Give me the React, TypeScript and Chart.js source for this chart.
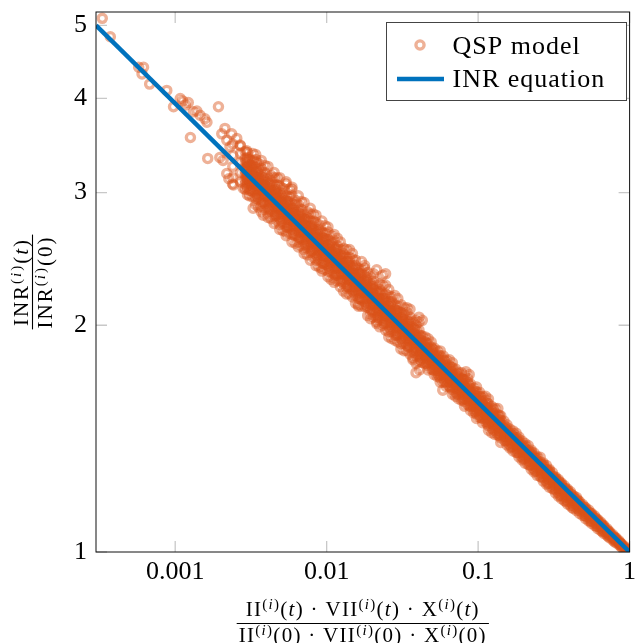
import React, { useEffect, useRef } from "react";
import { Chart, registerables } from "chart.js";

Chart.register(...registerables);

// ---------- axis ticks ----------
const xTickValues = [0.001, 0.01, 0.1, 1];
const xTickLabels = ["0.001", "0.01", "0.1", "1"];
const yTickValues = [1, 2, 3, 4, 5];
const yTickLabels = ["1", "2", "3", "4", "5"];
const xMin = 0.0003;
const xMax = 1;
const yMin = 1;
const yMax = 5.21;

// ---------- INR equation (straight line in log-log) ----------
const inrLineX = [0.0003, 1];
const inrLineY = [5.0, 1.0];

// ---------- QSP model: scattered points ----------
const qspSparseX = [0.00033, 0.000373, 0.000574, 0.000618, 0.000604, 0.000678, 0.00088, 0.000975, 0.00108, 0.00112,
  0.00117, 0.00122, 0.00126, 0.00132, 0.00139, 0.00146, 0.00157, 0.00162, 0.00164, 0.00193,
  0.00197, 0.00203, 0.00207, 0.00213, 0.00219, 0.00219, 0.00226, 0.0023, 0.00236, 0.00239,
  0.00242, 0.00255, 0.00268, 0.00281, 0.00296, 0.00327, 0.00345, 0.00381, 0.0245, 0.0428,
  0.0873, 0.0389, 0.041, 0.0584, 0.0831];
const qspSparseY = [5.11, 4.83, 4.40, 4.40, 4.31, 4.18, 4.10, 3.90, 4.00, 3.97,
  3.92, 3.95, 3.55, 3.84, 3.85, 3.80, 3.76, 3.72, 3.33, 3.90,
  3.34, 3.59, 3.31, 3.65, 3.52, 3.18, 3.13, 3.45, 3.59, 3.08,
  3.07, 3.54, 3.47, 3.04, 3.41, 2.86, 3.29, 2.80, 2.34, 2.03,
  1.72, 1.73, 1.745, 1.64, 1.735];

// ---------- QSP model: dense band, grouped by x (first pass) ----------
const qspColumnX = [0.0024, 0.0027, 0.0029, 0.0031, 0.0034, 0.0037, 0.0041, 0.0045, 0.0049, 0.0054,
  0.0059, 0.0065, 0.0071, 0.0078, 0.0085, 0.0093, 0.0102, 0.0112, 0.0123, 0.0135,
  0.0148, 0.0162, 0.0178, 0.0195, 0.0214, 0.0234, 0.0257, 0.0282, 0.0309, 0.0339,
  0.0371, 0.0407, 0.0447, 0.049, 0.0537, 0.0589, 0.0646, 0.0708, 0.0776, 0.0851,
  0.0933, 0.102, 0.112, 0.123, 0.135, 0.148, 0.162, 0.178, 0.195, 0.214,
  0.234, 0.257, 0.282, 0.309, 0.339, 0.371, 0.407, 0.447, 0.49, 0.537,
  0.589, 0.646, 0.708, 0.776, 0.851, 0.933, 1.0];
const qspColumnY = [
  [3.14, 3.25, 3.36, 3.48],
  [3.10, 3.19, 3.29, 3.38, 3.46],
  [3.03, 3.08, 3.12, 3.17, 3.20, 3.24, 3.29, 3.33, 3.40],
  [2.97, 3.02, 3.07, 3.11, 3.15, 3.18, 3.22, 3.27, 3.32],
  [2.89, 2.95, 2.99, 3.04, 3.09, 3.12, 3.15, 3.20, 3.24, 3.32, 3.37],
  [2.83, 2.88, 2.92, 2.97, 3.02, 3.05, 3.08, 3.12, 3.17, 3.23, 3.31],
  [2.78, 2.81, 2.86, 2.90, 2.95, 2.98, 3.01, 3.05, 3.10, 3.14, 3.25],
  [2.73, 2.79, 2.83, 2.88, 2.92, 2.95, 2.98, 3.02, 3.07, 3.14, 3.19],
  [2.68, 2.72, 2.77, 2.81, 2.85, 2.88, 2.91, 2.95, 3.00, 3.06, 3.14],
  [2.63, 2.66, 2.70, 2.74, 2.79, 2.82, 2.84, 2.89, 2.93, 2.97, 3.08, 3.10],
  [2.58, 2.64, 2.68, 2.72, 2.77, 2.79, 2.82, 2.86, 2.90, 2.97, 3.03, 3.05],
  [2.54, 2.58, 2.62, 2.66, 2.70, 2.73, 2.76, 2.80, 2.84, 2.89, 2.97],
  [2.49, 2.52, 2.56, 2.60, 2.64, 2.67, 2.69, 2.73, 2.77, 2.81, 2.91],
  [2.44, 2.50, 2.54, 2.58, 2.62, 2.64, 2.67, 2.71, 2.75, 2.81, 2.86],
  [2.40, 2.44, 2.48, 2.52, 2.56, 2.58, 2.61, 2.65, 2.68, 2.74, 2.80],
  [2.36, 2.38, 2.42, 2.46, 2.50, 2.52, 2.55, 2.59, 2.62, 2.66, 2.75],
  [2.32, 2.36, 2.40, 2.44, 2.48, 2.50, 2.53, 2.56, 2.60, 2.66, 2.70],
  [2.28, 2.31, 2.34, 2.38, 2.42, 2.44, 2.47, 2.50, 2.54, 2.59, 2.64],
  [2.25, 2.29, 2.33, 2.36, 2.39, 2.41, 2.45, 2.48, 2.52, 2.58],
  [2.20, 2.24, 2.27, 2.31, 2.34, 2.37, 2.39, 2.43, 2.46, 2.52],
  [2.18, 2.22, 2.25, 2.29, 2.31, 2.33, 2.37, 2.40, 2.45, 2.49],
  [2.12, 2.13, 2.17, 2.20, 2.23, 2.26, 2.28, 2.31, 2.35, 2.38],
  [2.12, 2.15, 2.18, 2.22, 2.24, 2.26, 2.29, 2.33, 2.38, 2.40],
  [2.04, 2.07, 2.10, 2.13, 2.17, 2.19, 2.21, 2.24, 2.27, 2.32],
  [2.01, 2.02, 2.05, 2.08, 2.11, 2.14, 2.16, 2.19, 2.22, 2.26, 2.37],
  [2.00, 2.03, 2.07, 2.10, 2.12, 2.14, 2.17, 2.20, 2.26, 2.33],
  [1.93, 1.96, 1.99, 2.02, 2.05, 2.07, 2.09, 2.12, 2.15, 2.19, 2.23],
  [1.91, 1.94, 1.97, 2.00, 2.02, 2.04, 2.07, 2.10, 2.13, 2.19],
  [1.86, 1.89, 1.92, 1.95, 1.98, 2.00, 2.02, 2.05, 2.08, 2.13],
  [1.85, 1.88, 1.91, 1.94, 1.96, 1.98, 2.01, 2.04, 2.08, 2.11],
  [1.80, 1.81, 1.84, 1.86, 1.89, 1.91, 1.93, 1.96, 1.99, 2.02],
  [1.79, 1.82, 1.85, 1.88, 1.90, 1.92, 1.94, 1.97, 2.02, 2.05],
  [1.78, 1.80, 1.82, 1.83, 1.85, 1.87, 1.90, 1.93],
  [1.75, 1.77, 1.79, 1.81, 1.83, 1.85, 1.87, 1.90],
  [1.71, 1.73, 1.74, 1.76, 1.78, 1.80, 1.82, 1.85],
  [1.68, 1.70, 1.72, 1.74, 1.75, 1.77, 1.80, 1.82],
  [1.66, 1.68, 1.70, 1.71, 1.73, 1.75, 1.77, 1.80],
  [1.61, 1.63, 1.65, 1.67, 1.68, 1.70, 1.72, 1.75],
  [1.59, 1.61, 1.63, 1.64, 1.66, 1.68, 1.70, 1.73],
  [1.57, 1.59, 1.60, 1.62, 1.64, 1.65, 1.68, 1.70],
  [1.53, 1.55, 1.56, 1.58, 1.59, 1.61, 1.63, 1.65],
  [1.51, 1.52, 1.54, 1.55, 1.57, 1.59, 1.61, 1.63],
  [1.49, 1.50, 1.52, 1.53, 1.55, 1.56, 1.59, 1.61],
  [1.44, 1.46, 1.48, 1.49, 1.51, 1.52, 1.54, 1.56],
  [1.43, 1.44, 1.46, 1.47, 1.49, 1.50, 1.52, 1.55],
  [1.407, 1.422, 1.437, 1.448, 1.460, 1.472, 1.492],
  [1.374, 1.389, 1.403, 1.417, 1.429, 1.439, 1.456],
  [1.356, 1.371, 1.385, 1.396, 1.407, 1.419, 1.438],
  [1.325, 1.338, 1.352, 1.366, 1.377, 1.387, 1.404],
  [1.307, 1.320, 1.334, 1.345, 1.356, 1.366, 1.385],
  [1.277, 1.290, 1.304, 1.317, 1.328, 1.337, 1.353],
  [1.260, 1.273, 1.286, 1.296, 1.307, 1.317, 1.336],
  [1.230, 1.243, 1.256, 1.269, 1.279, 1.288, 1.303],
  [1.214, 1.227, 1.240, 1.250, 1.260, 1.275],
  [1.186, 1.199, 1.211, 1.223, 1.233, 1.242, 1.248],
  [1.170, 1.182, 1.195, 1.204, 1.214, 1.224],
  [1.153, 1.165, 1.177, 1.186, 1.195, 1.202],
  [1.135, 1.147, 1.157, 1.167, 1.175, 1.181],
  [1.118, 1.130, 1.139, 1.147, 1.156],
  [1.100, 1.112, 1.121, 1.129, 1.137],
  [1.084, 1.094, 1.103, 1.110, 1.116],
  [1.068, 1.077, 1.084, 1.091, 1.095],
  [1.053, 1.061, 1.068, 1.074],
  [1.037, 1.044, 1.049, 1.054],
  [1.023, 1.028, 1.032, 1.035],
  [1.009, 1.013, 1.016],
  [1.0],
];

// ---------- QSP model: dense band, grouped by x (in-between columns) ----------
const qspColumnX2 = [0.0030, 0.00325, 0.00355, 0.0039, 0.0043, 0.0047, 0.00515, 0.00565, 0.0062, 0.0068,
  0.00745, 0.00815, 0.0089, 0.00975, 0.0107, 0.01175, 0.0129, 0.01415, 0.0155, 0.0170,
  0.01865, 0.0204, 0.0224, 0.0245, 0.0269, 0.0295, 0.0324, 0.0355, 0.0389, 0.0427,
  0.0468, 0.0513, 0.0562, 0.0617, 0.0676, 0.0741, 0.0813, 0.0891, 0.0976, 0.107,
  0.117, 0.129, 0.141, 0.155, 0.170, 0.186, 0.204, 0.224, 0.245, 0.269,
  0.295, 0.324, 0.355, 0.389, 0.427, 0.468, 0.513, 0.562, 0.617, 0.676,
  0.741, 0.813, 0.891, 0.966];
const qspColumnY2 = [
  [2.98, 3.04, 3.09, 3.13, 3.16, 3.19, 3.22, 3.25, 3.29, 3.34, 3.39],
  [2.96, 3.01, 3.06, 3.09, 3.13, 3.15, 3.18, 3.22, 3.26, 3.31, 3.38],
  [2.87, 2.94, 2.98, 3.02, 3.05, 3.08, 3.11, 3.14, 3.18, 3.22, 3.28],
  [2.85, 2.90, 2.95, 2.98, 3.01, 3.04, 3.07, 3.10, 3.14, 3.19, 3.26],
  [2.77, 2.83, 2.87, 2.91, 2.94, 2.97, 3.00, 3.02, 3.06, 3.11, 3.16],
  [2.75, 2.80, 2.84, 2.87, 2.90, 2.93, 2.96, 2.99, 3.03, 3.07, 3.14],
  [2.67, 2.73, 2.77, 2.81, 2.84, 2.86, 2.89, 2.91, 2.95, 2.99, 3.04],
  [2.65, 2.70, 2.74, 2.77, 2.80, 2.82, 2.85, 2.88, 2.92, 2.96, 3.03],
  [2.57, 2.63, 2.67, 2.71, 2.73, 2.76, 2.78, 2.81, 2.84, 2.89, 2.93],
  [2.55, 2.60, 2.64, 2.67, 2.70, 2.72, 2.75, 2.78, 2.81, 2.85, 2.92],
  [2.48, 2.53, 2.57, 2.61, 2.64, 2.66, 2.68, 2.71, 2.74, 2.78, 2.83],
  [2.46, 2.51, 2.54, 2.57, 2.60, 2.62, 2.65, 2.68, 2.71, 2.75, 2.81],
  [2.39, 2.44, 2.48, 2.51, 2.54, 2.56, 2.59, 2.61, 2.64, 2.68, 2.72],
  [2.37, 2.41, 2.45, 2.48, 2.51, 2.53, 2.55, 2.58, 2.61, 2.65, 2.71],
  [2.30, 2.35, 2.39, 2.42, 2.45, 2.47, 2.49, 2.51, 2.55, 2.58, 2.63],
  [2.29, 2.33, 2.36, 2.39, 2.42, 2.44, 2.46, 2.49, 2.52, 2.55, 2.61],
  [2.22, 2.27, 2.30, 2.34, 2.36, 2.38, 2.40, 2.42, 2.45, 2.49, 2.53],
  [2.20, 2.24, 2.28, 2.30, 2.33, 2.35, 2.37, 2.40, 2.43, 2.46, 2.52],
  [2.14, 2.19, 2.22, 2.25, 2.27, 2.29, 2.31, 2.34, 2.37, 2.40, 2.44],
  [2.12, 2.16, 2.20, 2.22, 2.24, 2.26, 2.28, 2.31, 2.34, 2.37, 2.43],
  [2.06, 2.11, 2.14, 2.17, 2.19, 2.21, 2.23, 2.25, 2.28, 2.31, 2.35],
  [2.05, 2.08, 2.12, 2.14, 2.16, 2.18, 2.20, 2.23, 2.25, 2.29, 2.34],
  [1.99, 2.03, 2.06, 2.09, 2.11, 2.13, 2.15, 2.17, 2.20, 2.23, 2.27],
  [1.97, 2.01, 2.04, 2.06, 2.08, 2.10, 2.12, 2.15, 2.17, 2.20, 2.26],
  [1.92, 1.96, 1.99, 2.02, 2.04, 2.05, 2.07, 2.09, 2.12, 2.15, 2.18],
  [1.90, 1.94, 1.97, 1.99, 2.01, 2.03, 2.05, 2.07, 2.09, 2.12, 2.17],
  [1.85, 1.89, 1.92, 1.94, 1.96, 1.98, 2.00, 2.02, 2.04, 2.07, 2.11],
  [1.83, 1.87, 1.90, 1.92, 1.94, 1.95, 1.97, 1.99, 2.02, 2.05, 2.10],
  [1.78, 1.82, 1.85, 1.87, 1.89, 1.91, 1.93, 1.94, 1.97, 2.00, 2.03],
  [1.785, 1.808, 1.828, 1.847, 1.862, 1.875, 1.890, 1.909, 1.935],
  [1.744, 1.767, 1.786, 1.804, 1.821, 1.836, 1.851, 1.867, 1.891, 1.919],
  [1.720, 1.742, 1.762, 1.780, 1.795, 1.807, 1.822, 1.840, 1.865],
  [1.680, 1.703, 1.721, 1.739, 1.755, 1.769, 1.783, 1.799, 1.822, 1.849],
  [1.659, 1.680, 1.699, 1.716, 1.730, 1.743, 1.756, 1.774, 1.798],
  [1.620, 1.642, 1.659, 1.676, 1.692, 1.705, 1.719, 1.735, 1.757, 1.783],
  [1.598, 1.618, 1.637, 1.653, 1.667, 1.679, 1.692, 1.709, 1.732],
  [1.561, 1.583, 1.599, 1.616, 1.631, 1.644, 1.657, 1.672, 1.693, 1.718],
  [1.541, 1.560, 1.578, 1.594, 1.607, 1.619, 1.632, 1.648, 1.671],
  [1.504, 1.525, 1.541, 1.557, 1.571, 1.584, 1.597, 1.611, 1.632, 1.656],
  [1.485, 1.504, 1.521, 1.536, 1.549, 1.560, 1.572, 1.588, 1.610],
  [1.451, 1.471, 1.486, 1.501, 1.515, 1.527, 1.540, 1.553, 1.573, 1.596],
  [1.432, 1.450, 1.466, 1.481, 1.493, 1.504, 1.516, 1.531, 1.552],
  [1.398, 1.417, 1.432, 1.446, 1.460, 1.472, 1.483, 1.497, 1.516],
  [1.387, 1.404, 1.419, 1.432, 1.442, 1.451, 1.462, 1.475],
  [1.362, 1.379, 1.393, 1.406, 1.416, 1.425, 1.436, 1.448],
  [1.337, 1.354, 1.368, 1.380, 1.390, 1.399, 1.410, 1.421],
  [1.312, 1.329, 1.342, 1.355, 1.364, 1.373, 1.383, 1.393],
  [1.288, 1.304, 1.318, 1.330, 1.340, 1.348, 1.358, 1.366],
  [1.264, 1.280, 1.294, 1.305, 1.315, 1.323, 1.332, 1.339],
  [1.242, 1.257, 1.270, 1.282, 1.291, 1.299, 1.307, 1.313],
  [1.219, 1.234, 1.247, 1.258, 1.267, 1.275, 1.283, 1.288],
  [1.198, 1.212, 1.224, 1.235, 1.244, 1.252, 1.258],
  [1.177, 1.190, 1.202, 1.213, 1.221, 1.229, 1.235],
  [1.158, 1.170, 1.181, 1.191, 1.200, 1.207, 1.212],
  [1.142, 1.153, 1.163, 1.172, 1.180, 1.187],
  [1.125, 1.135, 1.144, 1.152, 1.159, 1.166],
  [1.107, 1.116, 1.125, 1.132, 1.139, 1.145],
  [1.091, 1.100, 1.108, 1.114, 1.120, 1.125],
  [1.074, 1.082, 1.089, 1.095, 1.100, 1.104],
  [1.058, 1.065, 1.071, 1.076, 1.081, 1.084],
  [1.044, 1.050, 1.055, 1.059, 1.063],
  [1.029, 1.034, 1.038, 1.041, 1.044],
  [1.014, 1.018, 1.021, 1.024],
  [1.003, 1.006, 1.008],
];

// ---------- QSP model: band core, grouped by x ----------
const qspCoreX = [0.00297, 0.00317, 0.00348, 0.00379, 0.00419, 0.0046, 0.00501, 0.00552, 0.00604, 0.00665,
  0.00726, 0.00798, 0.0087, 0.00951, 0.01043, 0.01146, 0.01258, 0.01381, 0.01514, 0.01657,
  0.01821, 0.01995, 0.02189, 0.02394, 0.02629, 0.02885, 0.03161, 0.03468, 0.03795, 0.04164,
  0.04573, 0.05013, 0.05494, 0.06025, 0.06609, 0.07243, 0.07938, 0.08706, 0.09545, 0.1043,
  0.1146, 0.1258, 0.1381, 0.1514, 0.1657, 0.1821, 0.1995, 0.2189, 0.2394, 0.2629,
  0.2885, 0.3161, 0.3468, 0.3795, 0.4164, 0.4573, 0.5013, 0.5494, 0.6025, 0.6609,
  0.7243, 0.7938, 0.8706, 0.9545];
const qspCoreY = [
  [3.06, 3.13, 3.17, 3.21, 3.24, 3.30],
  [3.02, 3.08, 3.13, 3.16, 3.20, 3.26],
  [2.97, 3.03, 3.07, 3.11, 3.14, 3.20],
  [2.91, 2.97, 3.02, 3.05, 3.08, 3.14],
  [2.86, 2.92, 2.96, 2.99, 3.03, 3.08],
  [2.80, 2.86, 2.91, 2.94, 2.97, 3.03],
  [2.75, 2.81, 2.86, 2.88, 2.92, 2.97],
  [2.70, 2.76, 2.80, 2.83, 2.86, 2.92],
  [2.65, 2.71, 2.75, 2.78, 2.81, 2.86],
  [2.61, 2.66, 2.70, 2.73, 2.76, 2.81],
  [2.56, 2.61, 2.65, 2.68, 2.71, 2.76],
  [2.51, 2.56, 2.60, 2.63, 2.66, 2.71],
  [2.47, 2.52, 2.56, 2.58, 2.61, 2.66],
  [2.42, 2.47, 2.51, 2.54, 2.57, 2.61],
  [2.38, 2.43, 2.46, 2.49, 2.52, 2.56],
  [2.33, 2.38, 2.42, 2.44, 2.47, 2.52],
  [2.29, 2.34, 2.38, 2.40, 2.43, 2.47],
  [2.25, 2.30, 2.33, 2.36, 2.38, 2.43],
  [2.21, 2.25, 2.29, 2.31, 2.34, 2.38],
  [2.17, 2.21, 2.25, 2.27, 2.30, 2.34],
  [2.13, 2.17, 2.21, 2.23, 2.26, 2.30],
  [2.09, 2.13, 2.17, 2.19, 2.21, 2.25],
  [2.05, 2.09, 2.13, 2.15, 2.17, 2.21],
  [2.01, 2.06, 2.09, 2.11, 2.13, 2.17],
  [1.98, 2.02, 2.05, 2.07, 2.09, 2.13],
  [1.94, 1.98, 2.01, 2.03, 2.06, 2.09],
  [1.91, 1.95, 1.98, 2.00, 2.02, 2.05],
  [1.87, 1.91, 1.94, 1.96, 1.98, 2.02],
  [1.84, 1.87, 1.90, 1.92, 1.95, 1.98],
  [1.80, 1.84, 1.87, 1.89, 1.91, 1.94],
  [1.779, 1.807, 1.831, 1.849, 1.868, 1.894],
  [1.747, 1.775, 1.798, 1.816, 1.835, 1.860],
  [1.716, 1.742, 1.766, 1.783, 1.801, 1.826],
  [1.684, 1.710, 1.733, 1.751, 1.768, 1.793],
  [1.653, 1.679, 1.701, 1.719, 1.736, 1.760],
  [1.622, 1.648, 1.670, 1.687, 1.704, 1.727],
  [1.593, 1.618, 1.639, 1.656, 1.672, 1.695],
  [1.564, 1.588, 1.610, 1.626, 1.642, 1.665],
  [1.536, 1.560, 1.581, 1.597, 1.613, 1.635],
  [1.508, 1.532, 1.552, 1.568, 1.584, 1.606],
  [1.480, 1.503, 1.523, 1.539, 1.554, 1.576],
  [1.453, 1.476, 1.496, 1.511, 1.526, 1.547],
  [1.427, 1.449, 1.468, 1.483, 1.498, 1.519],
  [1.404, 1.423, 1.437, 1.449, 1.459],
  [1.378, 1.396, 1.411, 1.422, 1.432],
  [1.354, 1.372, 1.386, 1.397, 1.407],
  [1.329, 1.346, 1.360, 1.371, 1.381],
  [1.304, 1.321, 1.335, 1.345, 1.355],
  [1.280, 1.298, 1.311, 1.322, 1.331],
  [1.256, 1.273, 1.286, 1.297, 1.306],
  [1.233, 1.250, 1.263, 1.273, 1.282],
  [1.211, 1.228, 1.240, 1.250, 1.259],
  [1.189, 1.205, 1.217, 1.227, 1.236],
  [1.167, 1.183, 1.195, 1.205, 1.213],
  [1.146, 1.161, 1.173, 1.183, 1.191],
  [1.141, 1.152, 1.162, 1.170],
  [1.119, 1.131, 1.140, 1.148],
  [1.099, 1.110, 1.119, 1.127],
  [1.082, 1.092, 1.100, 1.107],
  [1.064, 1.073, 1.080, 1.086],
  [1.048, 1.056, 1.062, 1.067],
  [1.032, 1.038, 1.043, 1.047],
  [1.018, 1.023, 1.026, 1.028],
  [1.004, 1.007, 1.009],
];

// ---------- texts ----------
const legendLabels = ["QSP model", "INR equation"];
const xTitleNum = "II^{(i)}(t) · VII^{(i)}(t) · X^{(i)}(t)";
const xTitleDen = "II^{(i)}(0) · VII^{(i)}(0) · X^{(i)}(0)";
const yTitleNum = "INR^{(i)}(t)";
const yTitleDen = "INR^{(i)}(0)";

const FONT = '"Liberation Serif", "Times New Roman", serif';
const ORANGE = "rgba(217,83,25,0.45)";
const BLUE = "#0072BD";
const MARK_R = 4.1;
const MARK_W = 3.3;

type Seg = { t: string; sup: boolean; it: boolean };

function parseMath(s: string): Seg[] {
  const segs: Seg[] = [];
  let sup = false;
  let i = 0;
  while (i < s.length) {
    if (s[i] === "^" && s[i + 1] === "{") { sup = true; i += 2; continue; }
    if (s[i] === "}" && sup) { sup = false; i += 1; continue; }
    const ch = s[i];
    const it = ch >= "a" && ch <= "z";
    const last = segs[segs.length - 1];
    if (last && last.sup === sup && last.it === it) last.t += ch;
    else segs.push({ t: ch, sup, it });
    i += 1;
  }
  return segs;
}

function segFont(s: Seg, size: number) {
  const sz = s.sup ? Math.round(size * 0.7) : size;
  return `${s.it ? "italic " : ""}${sz}px ${FONT}`;
}

function measureMath(ctx: CanvasRenderingContext2D, str: string, size: number) {
  const segs = parseMath(str);
  let w = 0;
  for (const s of segs) { ctx.font = segFont(s, size); w += ctx.measureText(s.t).width; }
  return w;
}

function drawMath(ctx: CanvasRenderingContext2D, str: string, cx: number, baseline: number, size: number) {
  const segs = parseMath(str);
  const total = measureMath(ctx, str, size);
  let x = cx - total / 2;
  ctx.textAlign = "left";
  ctx.textBaseline = "alphabetic";
  for (const s of segs) {
    ctx.font = segFont(s, size);
    ctx.fillText(s.t, x, s.sup ? baseline - size * 0.33 : baseline);
    x += ctx.measureText(s.t).width;
  }
  return total;
}

const framePlugin = {
  id: "pgfFrame",
  beforeDatasetsDraw(chart: any) {
    const { ctx, chartArea } = chart;
    const { left, right, top, bottom } = chartArea;
    const xs = chart.scales.x;
    const ys = chart.scales.y;
    ctx.save();
    ctx.strokeStyle = "#c8c8c8";
    ctx.lineWidth = 1.3;
    const tl = 11;
    ctx.beginPath();
    for (const v of xTickValues) {
      const px = xs.getPixelForValue(v);
      ctx.moveTo(px, bottom); ctx.lineTo(px, bottom - tl);
      ctx.moveTo(px, top); ctx.lineTo(px, top + tl);
    }
    for (const v of yTickValues) {
      const py = ys.getPixelForValue(v);
      ctx.moveTo(left, py); ctx.lineTo(left + tl, py);
      ctx.moveTo(right, py); ctx.lineTo(right - tl, py);
    }
    ctx.stroke();
    ctx.restore();
  },
  afterDraw(chart: any) {
    const { ctx, chartArea } = chart;
    const { left, right, top, bottom } = chartArea;
    ctx.save();
    // axis box
    ctx.strokeStyle = "#111";
    ctx.lineWidth = 1;
    ctx.strokeRect(left, top, right - left, bottom - top);

    // legend
    const lx = 386.5, ly = 22.5, lw = 240, lh = 78;
    ctx.fillStyle = "#fff";
    ctx.fillRect(lx, ly, lw, lh);
    ctx.strokeStyle = "#444";
    ctx.lineWidth = 1;
    ctx.strokeRect(lx, ly, lw, lh);
    ctx.beginPath();
    ctx.arc(420, 45, MARK_R, 0, Math.PI * 2);
    ctx.strokeStyle = ORANGE;
    ctx.lineWidth = MARK_W;
    ctx.stroke();
    ctx.beginPath();
    ctx.moveTo(397, 79); ctx.lineTo(444, 79);
    ctx.strokeStyle = BLUE;
    ctx.lineWidth = 4.5;
    ctx.stroke();
    (ctx as any).letterSpacing = "1px";
    ctx.fillStyle = "#000";
    ctx.font = `26px ${FONT}`;
    ctx.textAlign = "left";
    ctx.textBaseline = "alphabetic";
    ctx.fillText(legendLabels[0], 452.5, 53.5);
    ctx.fillText(legendLabels[1], 452.5, 87);

    // x-axis title (fraction)
    (ctx as any).letterSpacing = "1.3px";
    const cx = (left + right) / 2;
    const barY = 623.5;
    const wn = drawMath(ctx, xTitleNum, cx, 616, 21);
    const wd = drawMath(ctx, xTitleDen, cx, 642, 21);
    const bw = Math.max(wn, wd) + 4;
    ctx.strokeStyle = "#000";
    ctx.lineWidth = 1.1;
    ctx.beginPath();
    ctx.moveTo(cx - bw / 2, barY); ctx.lineTo(cx + bw / 2, barY);
    ctx.stroke();

    // y-axis title (rotated fraction)
    ctx.translate(32, (top + bottom) / 2);
    ctx.rotate(-Math.PI / 2);
    (ctx as any).letterSpacing = "2px";
    const yn = drawMath(ctx, yTitleNum, 0, -4.5, 21);
    const yd = drawMath(ctx, yTitleDen, 0, 19.5, 21);
    const ybw = Math.max(yn, yd) + 2;
    ctx.beginPath();
    ctx.moveTo(-ybw / 2, 0.5); ctx.lineTo(ybw / 2, 0.5);
    ctx.stroke();
    ctx.restore();
  },
};

export default function App() {
  const canvasRef = useRef<HTMLCanvasElement | null>(null);

  useEffect(() => {
    const canvas = canvasRef.current;
    if (!canvas) return;

    const qspData: { x: number; y: number }[] = [];
    qspSparseX.forEach((x, i) => qspData.push({ x, y: qspSparseY[i] }));
    qspColumnX.forEach((x, i) => qspColumnY[i].forEach((y) => qspData.push({ x, y })));
    qspColumnX2.forEach((x, i) => qspColumnY2[i].forEach((y) => qspData.push({ x, y })));
    qspCoreX.forEach((x, i) => qspCoreY[i].forEach((y) => qspData.push({ x, y })));
    const lineData = inrLineX.map((x, i) => ({ x, y: inrLineY[i] }));

    const tickFont = { family: FONT, size: 26 };

    const chart = new Chart(canvas, {
      type: "scatter",
      data: {
        datasets: [
          {
            label: legendLabels[1],
            data: lineData,
            showLine: true,
            borderColor: BLUE,
            borderWidth: 4.5,
            pointRadius: 0,
            pointBorderWidth: 0,
            order: 0,
          } as any,
          {
            label: legendLabels[0],
            data: qspData,
            showLine: false,
            pointStyle: "circle",
            pointRadius: MARK_R,
            pointBorderWidth: MARK_W,
            pointBackgroundColor: "rgba(0,0,0,0)",
            pointBorderColor: ORANGE,
            borderColor: ORANGE,
            order: 1,
          } as any,
        ],
      },
      options: {
        responsive: false,
        animation: false,
        events: [],
        elements: {
          point: { radius: MARK_R, borderWidth: MARK_W, pointStyle: "circle" },
        },
        layout: { padding: { left: 0, right: 5, top: 12, bottom: 0 } },
        plugins: { legend: { display: false }, tooltip: { enabled: false } },
        scales: {
          x: {
            type: "logarithmic",
            min: xMin,
            max: xMax,
            grid: { display: false, drawTicks: false },
            border: { display: false },
            afterBuildTicks: (s: any) => { s.ticks = xTickValues.map((v) => ({ value: v })); },
            afterFit: (s: any) => { s.height = 91; s.paddingLeft = 0; s.paddingRight = 0; },
            ticks: {
              autoSkip: false,
              maxRotation: 0,
              minRotation: 0,
              padding: 5,
              color: "#000",
              font: tickFont,
              callback: (_v: any, i: number) => xTickLabels[i],
            },
          },
          y: {
            type: "logarithmic",
            min: yMin,
            max: yMax,
            grid: { display: false, drawTicks: false },
            border: { display: false },
            afterBuildTicks: (s: any) => { s.ticks = yTickValues.map((v) => ({ value: v })); },
            afterFit: (s: any) => { s.width = 96; s.paddingTop = 0; s.paddingBottom = 0; },
            ticks: {
              autoSkip: false,
              padding: 9,
              color: "#000",
              font: tickFont,
              callback: (_v: any, i: number) => yTickLabels[i],
            },
          },
        },
      } as any,
      plugins: [framePlugin],
    });

    return () => chart.destroy();
  }, []);

  return (
    <div style={{ position: "fixed", left: 0, top: 0, width: 637, height: 643, background: "#fff" }}>
      <canvas ref={canvasRef} width={637} height={643} style={{ display: "block", width: 637, height: 643 }} />
    </div>
  );
}
